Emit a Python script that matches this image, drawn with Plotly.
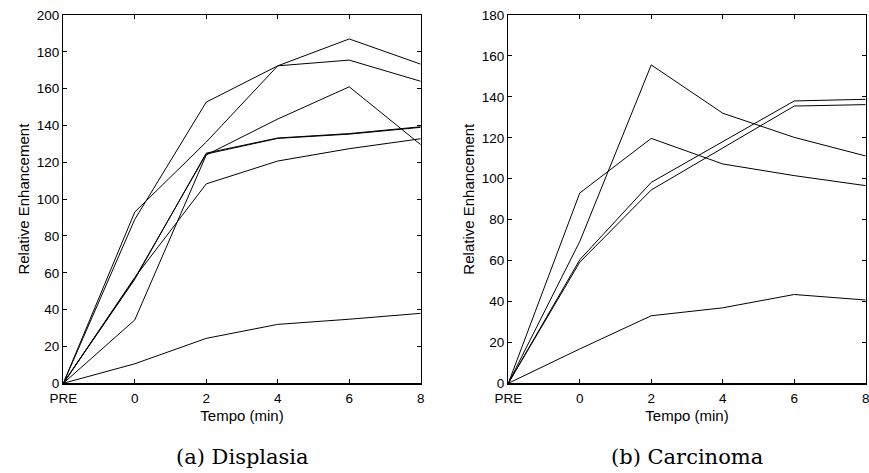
import plotly.graph_objects as go

# ---- data ----
time_labels = ["PRE", "0", "2", "4", "6", "8"]
time_values = [-2, 0, 2, 4, 6, 8]

# (a) Displasia
displasia_1 = [0, 89, 152.7, 172.4, 187, 173.3]
displasia_2 = [0, 93, 131, 172.4, 175.5, 164]
displasia_3 = [0, 34.4, 124, 143.5, 161, 129.6]
displasia_4 = [0, 57, 124.5, 133, 135.3, 139]
displasia_5 = [0, 56.5, 125, 133.2, 135.6, 139.3]
displasia_6 = [0, 57.5, 108.3, 120.7, 127.4, 132.8]
displasia_7 = [0, 10.6, 24.4, 32, 34.8, 38]

# (b) Carcinoma
carcinoma_1 = [0, 69.3, 155.6, 132, 120.2, 111.1]
carcinoma_2 = [0, 93, 119.7, 107.2, 101.5, 96.6]
carcinoma_3 = [0, 60.4, 98.2, 118, 138, 138.8]
carcinoma_4 = [0, 59.2, 94.5, 115, 135.5, 136.2]
carcinoma_5 = [0, 16.8, 33, 36.9, 43.4, 40.7]

displasia_series = [displasia_1, displasia_2, displasia_3, displasia_4,
                    displasia_5, displasia_6, displasia_7]
carcinoma_series = [carcinoma_1, carcinoma_2, carcinoma_3, carcinoma_4,
                    carcinoma_5]

x_title = "Tempo (min)"
y_title = "Relative Enhancement"
captions = ["(a) Displasia", "(b) Carcinoma"]

W, H = 869, 473
# ---- figure ----
fig = go.Figure()
for s in displasia_series:
    fig.add_trace(go.Scatter(x=time_values, y=s, mode="lines",
                             line=dict(color="black", width=1),
                             xaxis="x", yaxis="y", showlegend=False,
                             hoverinfo="skip"))
for s in carcinoma_series:
    fig.add_trace(go.Scatter(x=time_values, y=s, mode="lines",
                             line=dict(color="black", width=1),
                             xaxis="x2", yaxis="y2", showlegend=False,
                             hoverinfo="skip"))

tick_font = dict(family="Liberation Sans, Arial, sans-serif", size=13.5, color="black")
title_font = dict(family="Liberation Sans, Arial, sans-serif", size=15, color="black")

def xaxis_cfg(domain, anchor):
    return dict(domain=domain, anchor=anchor, range=[-2, 8],
                tickmode="array", tickvals=time_values, ticktext=time_labels,
                ticks="inside", ticklen=4, tickwidth=1, tickcolor="black",
                showline=True, linecolor="black", linewidth=1.3, mirror="ticks",
                showgrid=False, zeroline=False, tickfont=tick_font,
                ticklabeloverflow="allow", ticklabelstandoff=2,
                title=dict(text=x_title, font=title_font, standoff=5),
                automargin=False, fixedrange=True)

def yaxis_cfg(domain, anchor, top):
    return dict(domain=domain, anchor=anchor, range=[0, top],
                tickmode="linear", tick0=0, dtick=20,
                ticks="inside", ticklen=4, tickwidth=1, tickcolor="black",
                showline=True, linecolor="black", linewidth=1.3, mirror="ticks",
                showgrid=False, zeroline=False, tickfont=tick_font,
                ticklabeloverflow="allow",
                title=dict(text=y_title, font=title_font, standoff=3),
                automargin=False, fixedrange=True)

ydom = [(H - 383.3) / H, (H - 15) / H]
xdom1 = [63.3 / W, 420.7 / W]
xdom2 = [508.3 / W, 865.7 / W]

fig.update_layout(
    width=W, height=H,
    margin=dict(l=0, r=0, t=0, b=0),
    paper_bgcolor="white", plot_bgcolor="white",
    xaxis=xaxis_cfg(xdom1, "y"),
    yaxis=yaxis_cfg(ydom, "x", 200),
    xaxis2=xaxis_cfg(xdom2, "y2"),
    yaxis2=yaxis_cfg(ydom, "x2", 180),
)

cap_font = dict(family="DejaVu Serif, Liberation Serif, serif", size=21, color="black")
for dom, text in zip([xdom1, xdom2], captions):
    fig.add_annotation(text=text, xref="paper", yref="paper",
                       x=(dom[0] + dom[1]) / 2, y=(H - 457) / H,
                       xanchor="center", yanchor="middle",
                       showarrow=False, font=cap_font)

fig.write_html(
    "out.html",
    config={"displayModeBar": False, "staticPlot": True},
    post_script="document.body.style.margin='0';document.body.style.overflow='hidden';",
)
